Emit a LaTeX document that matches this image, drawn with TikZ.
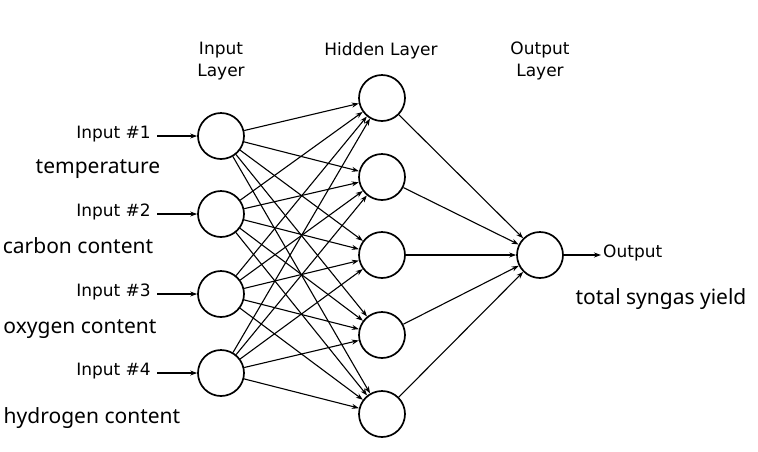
\documentclass[tikz,border=0pt]{standalone}
\usepackage{fontspec}
\setmainfont{DejaVu Sans}
\newfontfamily\labfont{Noto Sans}
\usetikzlibrary{arrows.meta}
\begin{document}
\begin{tikzpicture}[x=1pt,y=-1pt,
  neuron/.style={circle,draw,line width=1.7pt,minimum size=46pt,inner sep=0pt},
  conn/.style={line width=1.1pt,-{Stealth[length=7pt,width=5pt]}},
  lay/.style={font=\fontsize{17}{22}\selectfont,align=center},
  inp/.style={font=\fontsize{17}{20}\selectfont,anchor=east,inner sep=0pt},
  desc/.style={font=\labfont\fontsize{21}{24}\selectfont}]
\useasboundingbox (0,0) rectangle (758,451);
% input layer
\foreach \i/\y in {1/136,2/214,3/294,4/373}{
  \node[neuron] (I\i) at (221,\y) {};
  \node[inp] (T\i) at (151,\y-2) {Input \#\i};
  \draw[conn] (T\i.east) ++(6,2) coordinate (S\i) (S\i) -- (I\i);
}
% hidden layer
\foreach \j/\y in {1/98,2/177,3/255,4/335,5/414}{
  \node[neuron] (H\j) at (382,\y) {};
}
\node[neuron] (O) at (540,255) {};
\foreach \i in {1,...,4}{\foreach \j in {1,...,5}{\draw[conn] (I\i) -- (H\j);}}
\foreach \j in {1,...,5}{\draw[conn] (H\j) -- (O);}
\node[font=\fontsize{17}{20}\selectfont,anchor=west,inner sep=0pt] (OT) at (603,253) {Output};
\draw[conn] (O) -- ([yshift=-2pt,xshift=-2pt]OT.west);
% layer titles
\node[lay] (L1) at (221,61) {Input\\Layer};
\node[lay] (L2) at (381,51) {Hidden Layer};
\node[lay] (L3) at (540,61) {Output\\Layer};
% descriptions
\node[desc] (D1) at (98,169) {temperature};
\node[desc] (D2) at (78,246) {carbon content};
\node[desc] (D3) at (80,329) {oxygen content};
\node[desc] (D4) at (92,418) {hydrogen content};
\node[desc] (D5) at (661,299) {total syngas yield};
\end{tikzpicture}
\end{document}
